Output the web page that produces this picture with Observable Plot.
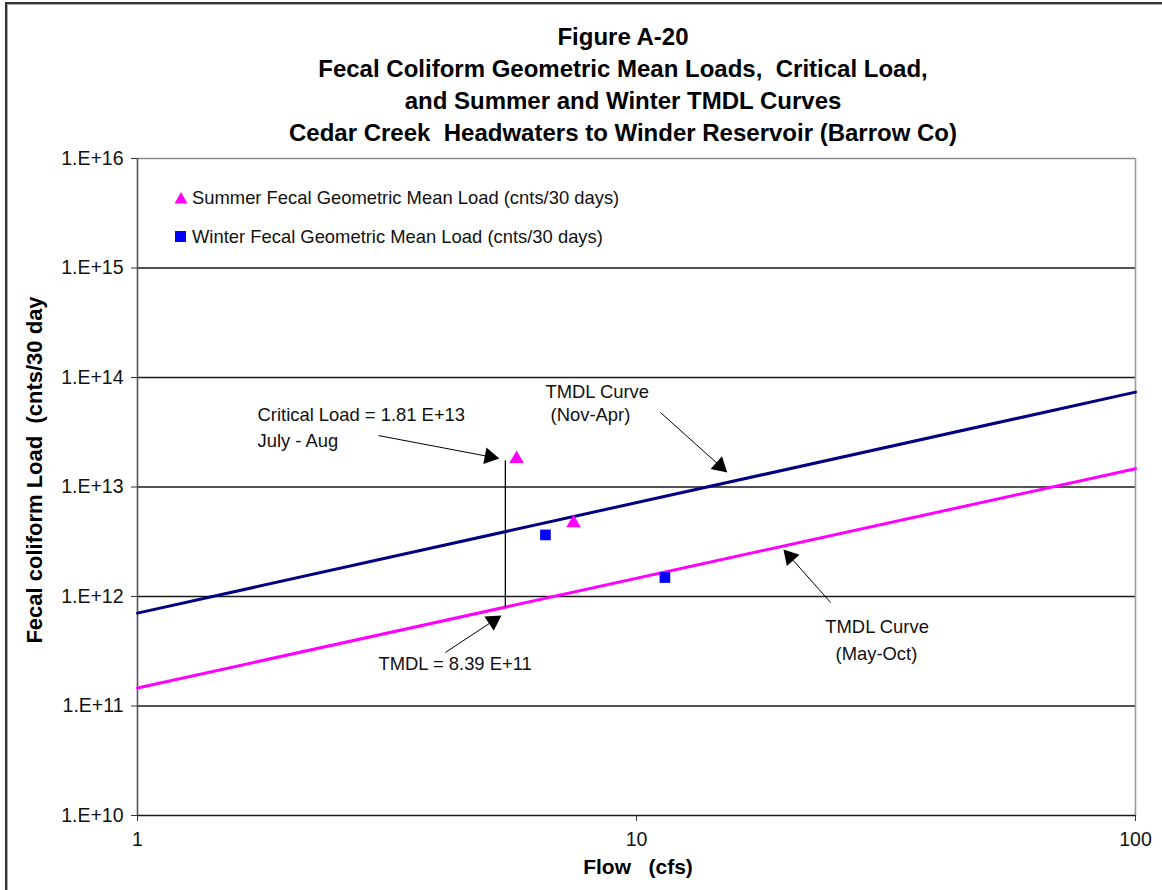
<!DOCTYPE html>
<html>
<head>
<meta charset="utf-8">
<script src="https://cdn.jsdelivr.net/npm/d3@7"></script>
<script src="https://cdn.jsdelivr.net/npm/@observablehq/plot@0.6"></script>
<style>
  body { margin: 0; background: #fff; font-family: "Liberation Sans", Arial, sans-serif; }
  #wrap { position: relative; width: 1162px; height: 890px; overflow: hidden; background: #fff; }
  #frame { position: absolute; left: 5px; top: 2px; width: 1200px; height: 1000px; border-left: 2px solid #333; border-top: 2px solid #333; box-shadow: inset 1px 1px 0 #aaa; }
  #title { position: absolute; left: 42px; top: 21px; width: 1162px; text-align: center; font-weight: bold; font-size: 24px; line-height: 32px; color: #000; }
  #ylabel { position: absolute; left: 35px; top: 470px; transform: translate(-50%, -50%) rotate(-90deg); white-space: pre; font-weight: bold; font-size: 22px; }
  #xlabel { position: absolute; left: 638px; top: 867px; transform: translate(-50%, -50%); white-space: pre; font-weight: bold; font-size: 21px; }
  #legend { position: absolute; left: 174px; top: 178px; font-size: 18.4px; line-height: 39px; color: #111; }
  #legend div { display: flex; align-items: center; white-space: pre; }
  #legend svg { margin-right: 4px; }
  #chart { position: absolute; left: 0; top: 0; }
</style>
</head>
<body>
<div id="wrap">
  <div id="frame"></div>
  <div id="chart"></div>
  <div id="title"></div>
  <div id="ylabel"></div>
  <div id="xlabel"></div>
  <div id="legend"></div>
</div>
<script>
// ---------- data ----------
const titleLines = [
  "Figure A-20",
  "Fecal Coliform Geometric Mean Loads,  Critical Load,",
  "and Summer and Winter TMDL Curves",
  "Cedar Creek  Headwaters to Winder Reservoir (Barrow Co)"
];
const yTitle = "Fecal coliform Load  (cnts/30 day";
const xTitle = "Flow   (cfs)";

const flowTicks = [1, 10, 100];
const loadTicks = [1e10, 1e11, 1e12, 1e13, 1e14, 1e15, 1e16];

// TMDL curves (endpoints)
const curveFlow = [1, 100];
const winterCurveLoad = [7.05e11, 7.35e13];   // Nov-Apr (navy)
const summerCurveLoad = [1.46e11, 1.47e13];   // May-Oct (magenta)

// Geometric mean loads
const summerFlow = [5.75, 7.48];
const summerLoad = [1.81e13, 4.69e12];
const winterFlow = [6.57, 11.4];
const winterLoad = [3.65e12, 1.49e12];

// Critical load vertical segment
const criticalFlow = [5.46];
const criticalFrom = [8.0e11];
const criticalTo = [1.75e13];

const legendLabels = [
  "Summer Fecal Geometric Mean Load (cnts/30 days)",
  "Winter Fecal Geometric Mean Load (cnts/30 days)"
];

// annotations (data coordinates)
const noteText = [
  "Critical Load = 1.81 E+13\nJuly - Aug",
  "TMDL = 8.39 E+11",
  "TMDL Curve\n\u00a0(Nov-Apr)",
  "TMDL Curve\n\u00a0\u00a0(May-Oct)"
];
const noteFlow = [1.74, 3.04, 6.57, 23.9];
const noteLoad = [3.65e13, 2.5e11, 5.97e13, 4.2e11];
const noteLineHeight = [1.42, 1.2, 1.27, 1.5];

// arrows: tail -> tip
const arrowFlow1 = [3.04, 4.14, 11.17, 24.5];
const arrowLoad1 = [2.95e13, 3.08e11, 4.79e13, 8.8e11];
const arrowFlow2 = [5.31, 5.36, 15.2, 19.7];
const arrowLoad2 = [1.82e13, 6.7e11, 1.36e13, 2.69e12];

// ---------- layout ----------
const W = 1162, H = 890;
const mL = 137, mR = 27, mT = 158, mB = 75;

document.getElementById("title").innerHTML = titleLines.map(t => `<div style="white-space:pre">${t}</div>`).join("");
document.getElementById("ylabel").textContent = yTitle;
document.getElementById("xlabel").textContent = xTitle;

const MAGENTA = "#ff00ff", NAVY = "#000080", BLUE = "#0000ff";

document.getElementById("legend").innerHTML =
  `<div><svg width="14" height="13"><path d="M7,1 L13.5,12.5 L0.5,12.5 Z" fill="${MAGENTA}"/></svg>${legendLabels[0]}</div>` +
  `<div><svg width="14" height="13"><rect x="1" y="1" width="11" height="11" fill="${BLUE}"/></svg>${legendLabels[1]}</div>`;

// tables
const curves = [];
curveFlow.forEach((f, i) => {
  curves.push({flow: f, load: winterCurveLoad[i], s: "winter"});
  curves.push({flow: f, load: summerCurveLoad[i], s: "summer"});
});
const summerPts = summerFlow.map((f, i) => ({flow: f, load: summerLoad[i]}));
const winterPts = winterFlow.map((f, i) => ({flow: f, load: winterLoad[i]}));
const critical = criticalFlow.map((f, i) => ({flow: f, y1: criticalFrom[i], y2: criticalTo[i]}));
const notes = noteText.map((t, i) => ({text: t, flow: noteFlow[i], load: noteLoad[i], lh: noteLineHeight[i]}));

// arrow heads: compute direction with the same scales Plot uses
const X = Plot.scale({x: {type: "log", domain: [1, 100], range: [mL, W - mR]}});
const Y = Plot.scale({y: {type: "log", domain: [1e10, 1e16], range: [H - mB, mT]}});
const headR = 6.3;
const tipDist = 2 * Math.sqrt((Math.PI * headR * headR) / (3 * Math.sqrt(3)));
const arrows = arrowFlow1.map((f, i) => {
  const px1 = X.apply(f), py1 = Y.apply(arrowLoad1[i]);
  const px2 = X.apply(arrowFlow2[i]), py2 = Y.apply(arrowLoad2[i]);
  const dx = px2 - px1, dy = py2 - py1, len = Math.hypot(dx, dy);
  const ux = dx / len, uy = dy / len;
  const cx = px2 - ux * tipDist, cy = py2 - uy * tipDist;
  return {
    x1: f, y1: arrowLoad1[i],
    hx: X.invert(cx), hy: Y.invert(cy),
    angle: Math.atan2(dx, -dy) * 180 / Math.PI
  };
});

const chart = Plot.plot({
  width: W, height: H,
  marginLeft: mL, marginRight: mR, marginTop: mT, marginBottom: mB,
  style: {fontFamily: "'Liberation Sans', Arial, sans-serif", fontSize: "18px", background: "transparent", overflow: "visible", color: "#111"},
  x: {type: "log", domain: [1, 100]},
  y: {type: "log", domain: [1e10, 1e16]},
  marks: [
    // gridlines / frame
    Plot.ruleY(loadTicks.slice(1, -1), {stroke: "#1a1a1a", strokeWidth: 1.4}),
    Plot.ruleY([loadTicks[loadTicks.length - 1]], {stroke: "#8a8a8a", strokeWidth: 1.6}),
    Plot.ruleX([flowTicks[flowTicks.length - 1]], {stroke: "#9a9a9a", strokeWidth: 1.6}),
    Plot.ruleY([loadTicks[0]], {stroke: "#1a1a1a", strokeWidth: 1.6}),
    Plot.ruleX([flowTicks[0]], {stroke: "#555", strokeWidth: 1.6}),
    Plot.axisY({ticks: loadTicks, tickSize: 6, tickPadding: 8, stroke: "#333",
      tickFormat: d => "1.E+" + Math.round(Math.log10(d)), label: null, fontSize: 19.5}),
    Plot.axisX({ticks: flowTicks, tickSize: 6, tickPadding: 11, stroke: "#333",
      tickFormat: d => String(d), label: null, fontSize: 19.5}),
    // TMDL curves
    Plot.line(curves.filter(d => d.s === "winter"), {x: "flow", y: "load", stroke: NAVY, strokeWidth: 3}),
    Plot.line(curves.filter(d => d.s === "summer"), {x: "flow", y: "load", stroke: MAGENTA, strokeWidth: 3}),
    // critical load segment
    Plot.link(critical, {x1: "flow", x2: "flow", y1: "y1", y2: "y2", stroke: "#000", strokeWidth: 1.3}),
    // data points
    Plot.dot(summerPts, {x: "flow", y: "load", symbol: "triangle", r: 5.4, fill: MAGENTA, stroke: "none"}),
    Plot.dot(winterPts, {x: "flow", y: "load", symbol: "square", r: 3.4 * 1.77, fill: BLUE, stroke: "none"}),
    // arrows
    Plot.link(arrows, {x1: "x1", y1: "y1", x2: "hx", y2: "hy", stroke: "#000", strokeWidth: 1}),
    Plot.dot(arrows, {x: "hx", y: "hy", symbol: "triangle", r: headR, rotate: "angle", fill: "#000", stroke: "none"}),
    // annotation text
    ...notes.map(n => Plot.text([n], {x: "flow", y: "load", text: "text", textAnchor: "start", lineAnchor: "middle",
      lineHeight: n.lh, fontSize: 18.4, fill: "#111"}))
  ]
});
document.getElementById("chart").appendChild(chart);
</script>
</body>
</html>
